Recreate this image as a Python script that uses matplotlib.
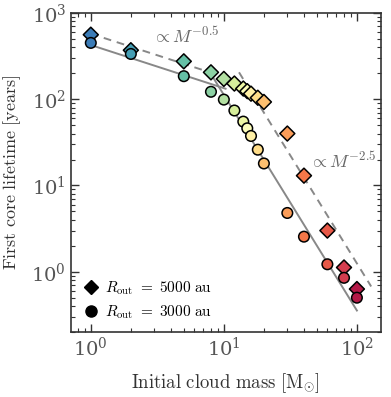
import numpy as np
import matplotlib
matplotlib.use("Agg")
import matplotlib.pyplot as plt
from matplotlib.lines import Line2D

plt.rcParams['mathtext.fontset'] = 'cm'
plt.rcParams['font.family'] = ['DejaVu Serif']

# Data
masses = [1, 2, 5, 8, 10, 12, 14, 15, 16, 18, 20, 30, 40, 60, 80, 100]
life_5000 = [560, 370, 275, 205, 172, 152, 133, 124, 116, 104, 93, 40, 13, 3.0, 1.12, 0.63]
life_3000 = [450, 335, 185, 122, 99, 74, 55, 46, 37.5, 26, 18, 4.8, 2.55, 1.22, 0.85, 0.50]

# power-law guides: (amplitude, exponent, M_start, M_end)
fit_dashed = [(575, -0.5, 1, 8), (125000, -2.5, 13, 128)]
fit_solid = [(425, -0.5, 1, 10.3), (35500, -2.5, 7.8, 100)]
fit_labels = [r'$\propto M^{-0.5}$', r'$\propto M^{-2.5}$']
fit_label_pos = [(2.9, 540), (43.5, 19)]

fig = plt.figure(figsize=(3.91, 3.97), dpi=100)
ax = fig.add_axes([0.1816, 0.1637, 0.7921, 0.8036])

cmap = plt.get_cmap('Spectral_r')
colors = cmap(np.linspace(0.08, 0.96, len(masses)))

for (a, k, m0, m1) in fit_dashed:
    m = np.geomspace(m0, m1, 50)
    ax.plot(m, a * m**k, ls=(0, (4, 3)), color='#888888', lw=1.4, zorder=1)
for (a, k, m0, m1) in fit_solid:
    m = np.geomspace(m0, m1, 50)
    ax.plot(m, a * m**k, ls='-', color='#888888', lw=1.4, zorder=1)

ax.scatter(masses, life_5000, marker='D', s=58, c=colors, edgecolors='k', linewidths=1.1, zorder=3)
ax.scatter(masses, life_3000, marker='o', s=58, c=colors, edgecolors='k', linewidths=1.1, zorder=3)

for lab, (x, y) in zip(fit_labels, fit_label_pos):
    ax.text(x, y, lab, fontsize=13, color='#666666', va='center', ha='left')

ax.set_xscale('log')
ax.set_yscale('log')
ax.set_xlim(0.71, 151)
ax.set_ylim(0.2, 1000)

ax.tick_params(which='both', direction='in', top=True, right=True, colors='#333333',
               labelcolor='#555555', labelsize=14)
ax.tick_params(which='major', length=5.5, width=1)
ax.tick_params(which='minor', length=3, width=0.8)
for s in ax.spines.values():
    s.set_color('#333333')
    s.set_linewidth(1.2)

ax.set_xlabel(r'$\mathrm{Initial\ cloud\ mass\ [M_{\odot}]}$', fontsize=13.5, color='#333333', labelpad=8)
ax.set_ylabel(r'$\mathrm{First\ core\ lifetime\ [years]}$', fontsize=13, color='#333333', labelpad=6)

handles = [Line2D([], [], marker='D', color='k', ls='none', markersize=7),
           Line2D([], [], marker='o', color='k', ls='none', markersize=8)]
ax.legend(handles, [r'$R_\mathrm{out}\ \mathrm{=\ 5000\ au}$', r'$R_\mathrm{out}\ \mathrm{=\ 3000\ au}$'],
          loc='lower left', frameon=False, fontsize=11, handletextpad=0.3,
          borderaxespad=0.3, labelspacing=0.45, handlelength=1.2)

fig.savefig('out.png', dpi=100)
